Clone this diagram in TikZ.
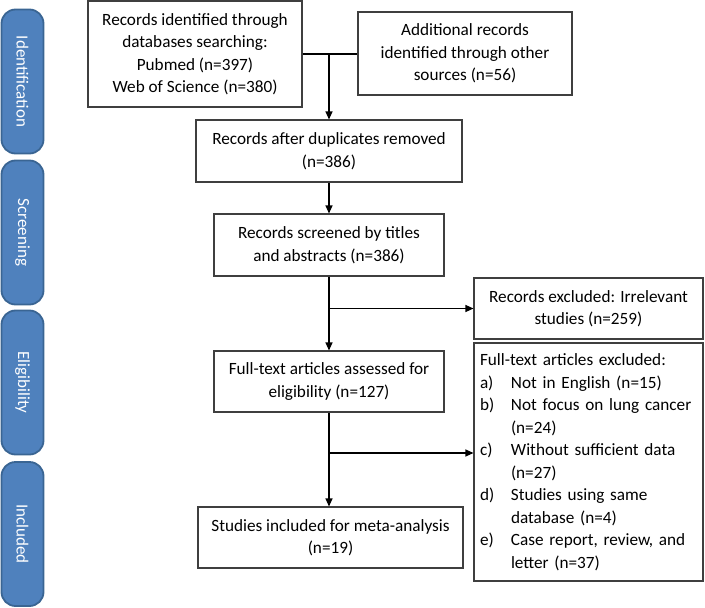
\documentclass[tikz,border=0pt]{standalone}
\usepackage{fontspec}
\setmainfont{Carlito}
\usetikzlibrary{arrows.meta}

\definecolor{tabblue}{HTML}{4F81BD}
\definecolor{tabedge}{HTML}{3A6593}
\definecolor{boxedge}{HTML}{3F3F3F}

\tikzset{
  box/.style={draw=boxedge, line width=1.1pt, align=center, inner sep=0pt,
    font=\fontsize{17.2}{22.5}\selectfont},
  phase/.style={draw=tabedge, fill=tabblue, line width=1.8pt, rounded corners=14pt,
    minimum width=144pt, minimum height=42pt, rotate=-90, text=white,
    font=\fontsize{17}{20}\selectfont},
  flow/.style={line width=1.2pt, -{Triangle[length=8pt,width=7pt]}},
  link/.style={line width=1.2pt},
}
\newcommand{\itm}[1]{\makebox[31pt][l]{#1}}

\begin{document}
\begin{tikzpicture}[x=1pt, y=-1pt]
    \useasboundingbox (0,0) rectangle (705,608);

    % phases on the left
    \node[phase] (tabid) at (22.5, 81.5) {Identification};
    \node[phase] (tabscr) at (22.5, 232.5) {Screening};
    \node[phase] (tabelig) at (22.5, 382.5) {Eligibility};
    \node[phase] (tabincl) at (22.5, 534) {Included};

    % boxes
    \node[box, minimum width=214pt, minimum height=106pt] (dbsearch) at (195, 54)
        {Records identified through\\ databases searching:\\ Pubmed (n=397)\\ Web of Science (n=380)};
    \node[box, minimum width=214pt, minimum height=83pt] (othersrc) at (465, 53.5)
        {Additional records\\ identified through other\\ sources (n=56)};
    \node[box, minimum width=266pt, minimum height=62pt] (dedup) at (329, 151)
        {Records after duplicates removed\\ (n=386)};
    \node[box, minimum width=230pt, minimum height=62pt] (screened) at (329, 245)
        {Records screened by titles\\ and abstracts (n=386)};
    \node[box, minimum width=229pt, minimum height=61pt] (irrel) at (588.5, 308.5)
        {Records excluded: Irrelevant\\ studies (n=259)};
    \node[box, minimum width=230pt, minimum height=61pt] (fulltext) at (329, 381.5)
        {Full-text articles assessed for\\ eligibility (n=127)};
    \node[box, minimum width=229pt, minimum height=238pt, align=left, text width=217pt,
          inner xsep=6pt] (ftexcl) at (588.5, 462)
        {Full-text articles excluded:\\
         \itm{a)}Not in English (n=15)\\
         \itm{b)}Not focus on lung cancer\\
         \itm{}(n=24)\\
         \itm{c)}Without sufficient data\\
         \itm{}(n=27)\\
         \itm{d)}Studies using same\\
         \itm{}database (n=4)\\
         \itm{e)}Case report, review, and\\
         \itm{}letter (n=37)};
    \node[box, minimum width=265pt, minimum height=61pt] (included) at (330.5, 537.5)
        {Studies included for meta-analysis\\ (n=19)};

    % connectors
    \coordinate (join) at (dedup.north |- dbsearch.east);
    \draw[link] (dbsearch.east) -- (othersrc.west |- dbsearch.east);
    \draw[flow] (join) -- (dedup.north);
    \draw[flow] (dedup.south) -- (screened.north);
    \draw[flow] (screened.south) -- (fulltext.north);
    \draw[flow] (screened.south |- irrel.west) -- (irrel.west);
    \draw[flow] (fulltext.south) -- (fulltext.south |- included.north);
    \coordinate (split) at (329, 453);
    \draw[flow] (split) -- (ftexcl.west |- split);
\end{tikzpicture}
\end{document}
